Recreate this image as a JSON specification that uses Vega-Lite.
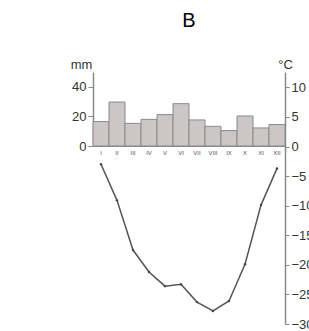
{
  "$schema": "https://vega.github.io/schema/vega-lite/v6.json",
  "width": 192,
  "height": 252,
  "autosize": {"type": "none"},
  "padding": {"left": 93, "top": 72, "right": 24, "bottom": 7},
  "background": "white",
  "title": {"text": "B", "fontSize": 20, "font": "Liberation Sans", "fontWeight": "normal", "color": "#000000", "anchor": "middle", "dy": -23},
  "config": {"view": {"stroke": null}, "font": "Liberation Sans"},
  "data": {"values": [
    {"month": "I", "precip": 16.5, "temp": -3.0},
    {"month": "II", "precip": 29.7, "temp": -9.1},
    {"month": "III", "precip": 15.3, "temp": -17.5},
    {"month": "IV", "precip": 18.0, "temp": -21.2},
    {"month": "V", "precip": 21.2, "temp": -23.6},
    {"month": "VI", "precip": 28.6, "temp": -23.3},
    {"month": "VII", "precip": 17.6, "temp": -26.3},
    {"month": "VIII", "precip": 13.3, "temp": -27.8},
    {"month": "IX", "precip": 10.4, "temp": -26.1},
    {"month": "X", "precip": 20.3, "temp": -19.9},
    {"month": "XI", "precip": 12.2, "temp": -9.9},
    {"month": "XII", "precip": 14.5, "temp": -3.7}
  ]},
  "encoding": {
    "x": {
      "field": "month", "type": "ordinal", "sort": null,
      "scale": {"paddingInner": 0, "paddingOuter": 0},
      "axis": {"title": null, "orient": "bottom", "offset": -178, "labelAngle": 0, "labelFontSize": 6, "labelColor": "#555555", "ticks": false, "labelPadding": 3, "domainColor": "#888888", "domainWidth": 1.2}
    }
  },
  "layer": [
    {
      "mark": {"type": "bar", "fill": "#cdc6c6", "stroke": "#8a8a8a", "strokeWidth": 1},
      "encoding": {
        "y": {
          "field": "precip", "type": "quantitative",
          "scale": {"domain": [0, 50], "range": [74, 0], "nice": false},
          "axis": {"orient": "left", "values": [0, 20, 40], "title": "mm", "titleAngle": 0, "titleX": -12, "titleY": -4, "titleAlign": "center", "titleBaseline": "alphabetic", "titleFontSize": 13, "titleFontWeight": "normal", "titleColor": "#333333", "labelFontSize": 13, "labelColor": "#333333", "tickColor": "#888888", "tickSize": 5, "domainColor": "#888888", "domainWidth": 1.5, "grid": false}
        }
      }
    },
    {
      "mark": {"type": "line", "color": "#555555", "strokeWidth": 1.5, "point": {"filled": true, "size": 6, "color": "#444444"}},
      "encoding": {
        "y": {
          "field": "temp", "type": "quantitative",
          "scale": {"domain": [-30, 12.6], "nice": false, "zero": false},
          "axis": {"orient": "right", "values": [10, 5, 0, -5, -10, -15, -20, -25, -30], "title": "°C", "titleAngle": 0, "titleX": 0, "titleY": -4, "titleAlign": "center", "titleBaseline": "alphabetic", "titleFontSize": 13, "titleFontWeight": "normal", "titleColor": "#333333", "labelFontSize": 13, "labelColor": "#333333", "tickColor": "#888888", "tickSize": 4, "domainColor": "#888888", "domainWidth": 1.5, "grid": false}
        }
      }
    }
  ],
  "resolve": {"scale": {"y": "independent"}}
}
